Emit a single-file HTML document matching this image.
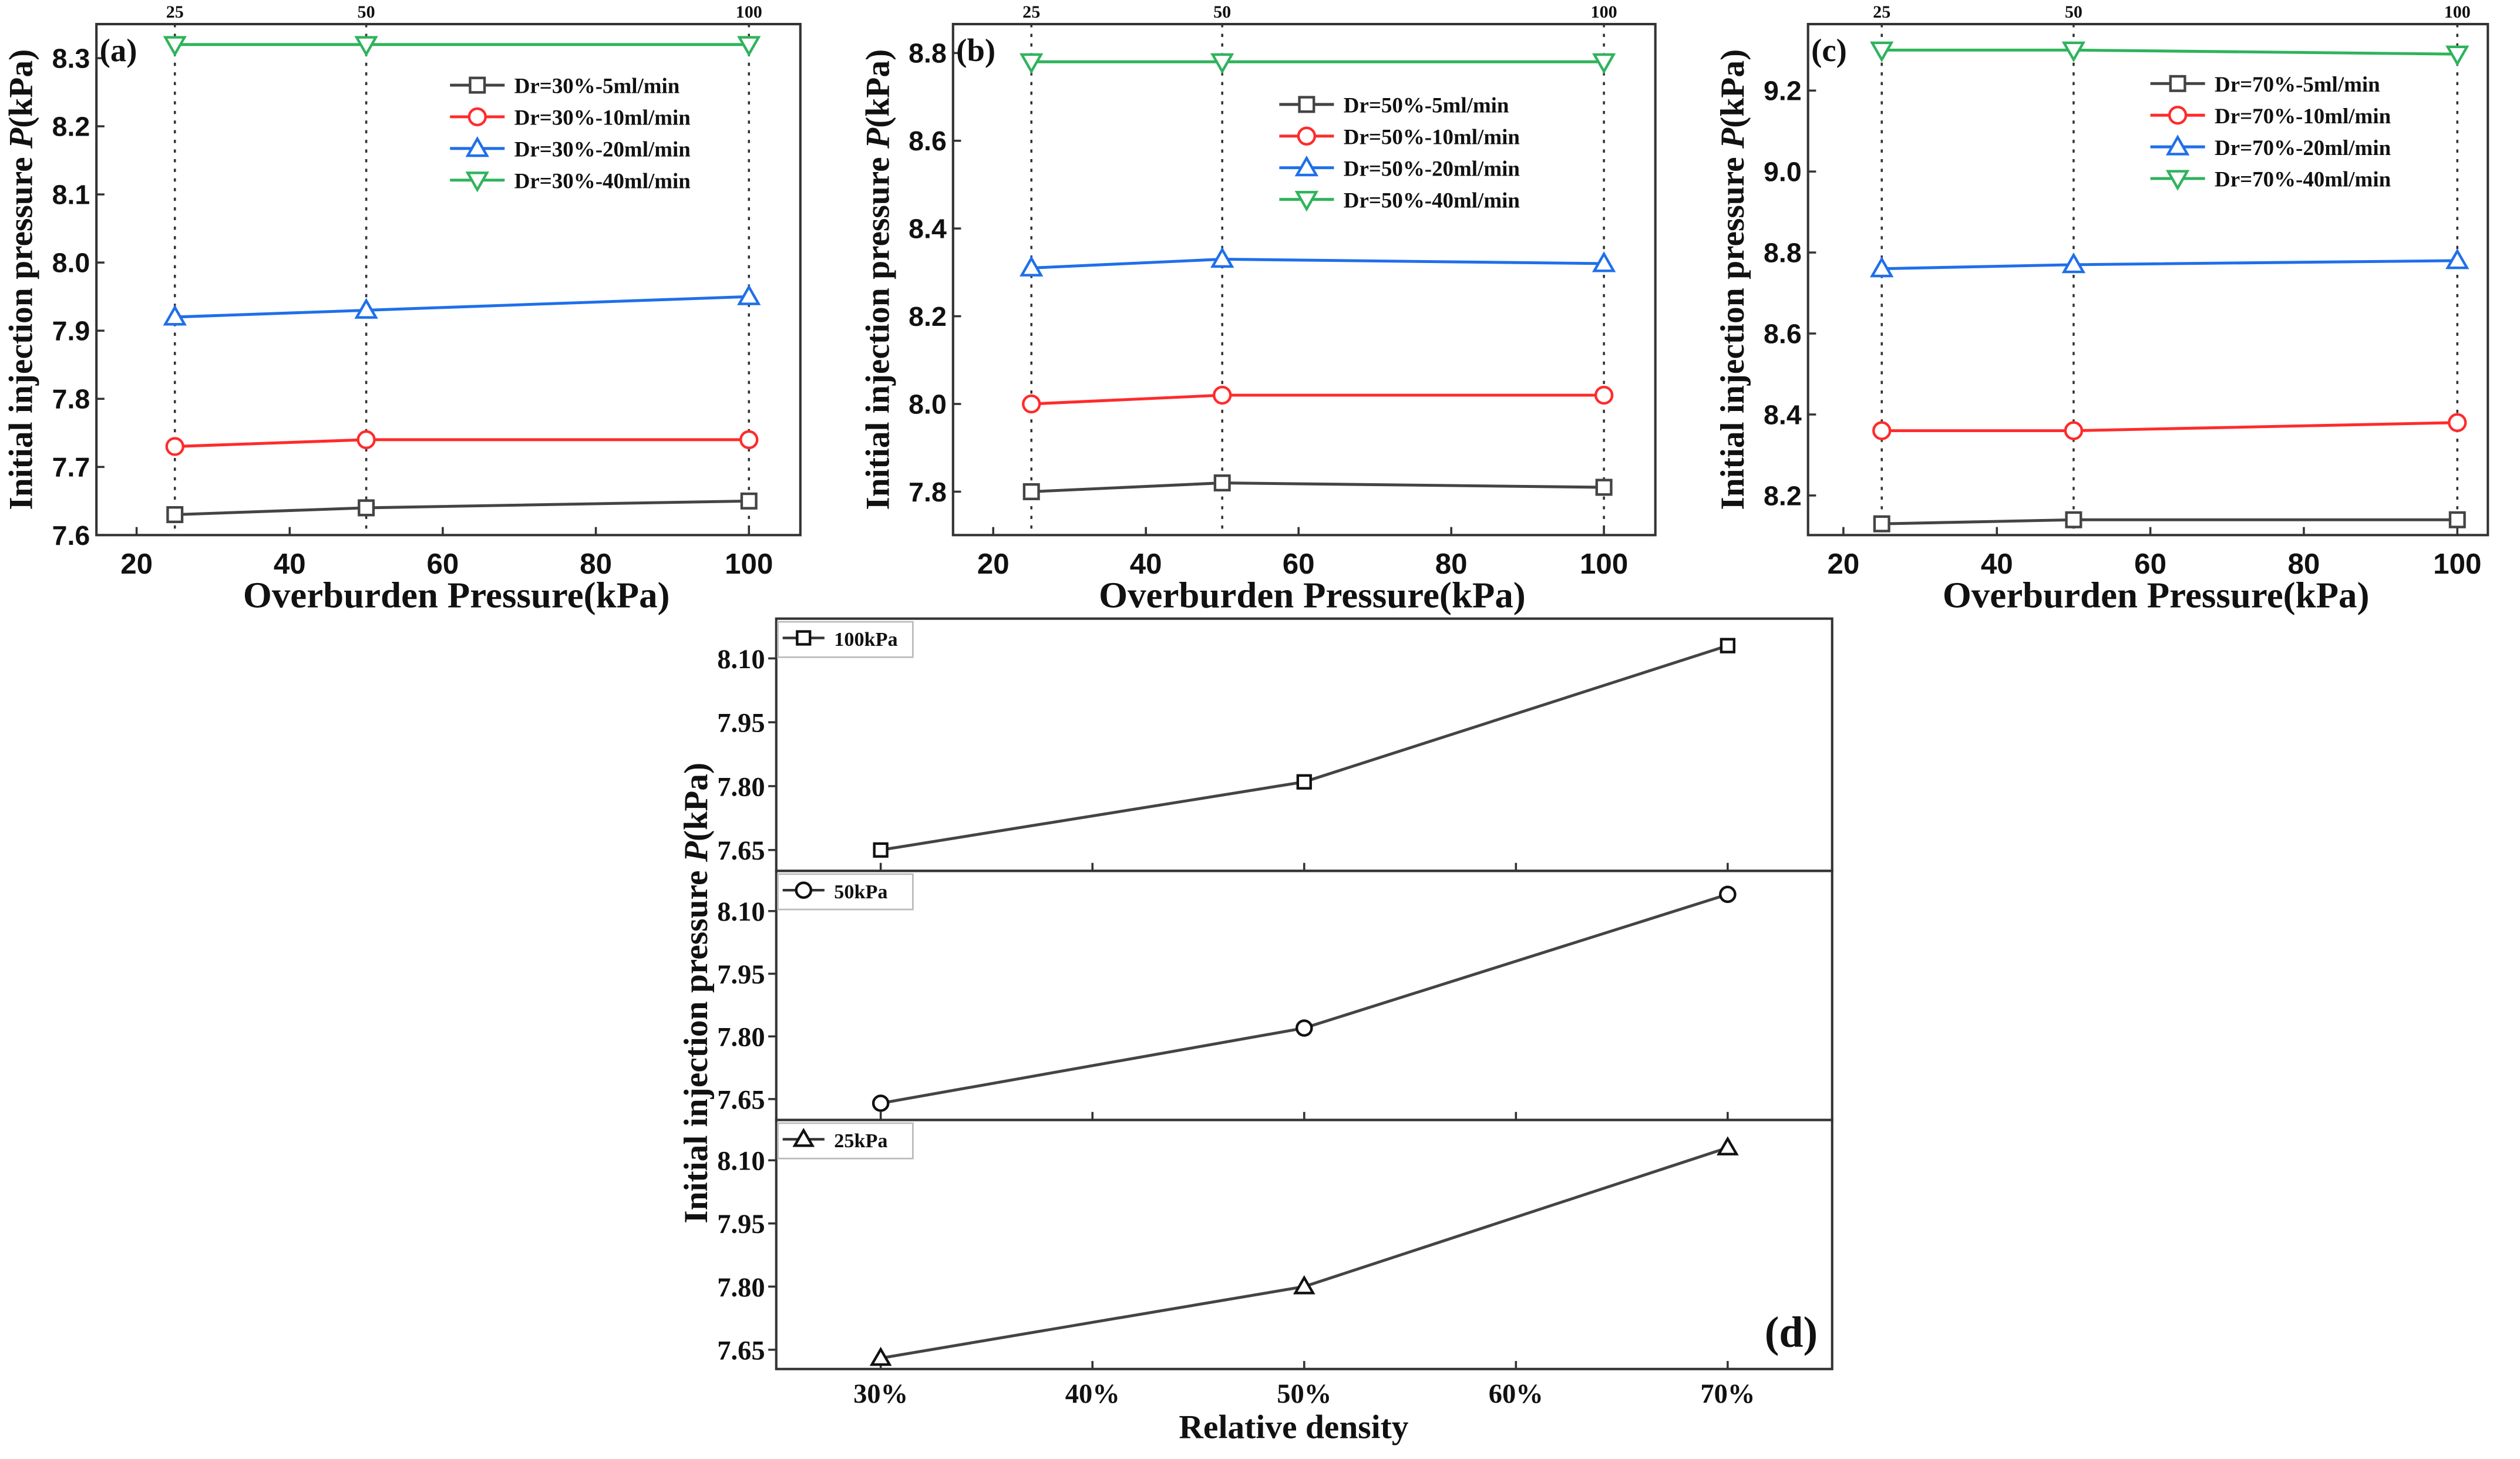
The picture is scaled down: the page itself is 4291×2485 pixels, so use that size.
<!DOCTYPE html>
<html><head><meta charset="utf-8"><style>
html,body{margin:0;padding:0;background:#fff}
svg{display:block}
text{font-family:"Liberation Serif",serif;font-weight:bold;fill:#111}
text.sans{font-family:"Liberation Sans",sans-serif}
</style></head><body>
<svg id="fig" xmlns="http://www.w3.org/2000/svg" width="4291" height="2485" viewBox="0 0 1568 908" preserveAspectRatio="none"></svg>
<script>
const overburden = [25, 50, 100];
const aLabels = ["Dr=30%-5ml/min","Dr=30%-10ml/min","Dr=30%-20ml/min","Dr=30%-40ml/min"];
const a5 = [7.63, 7.64, 7.65];
const a10 = [7.73, 7.74, 7.74];
const a20 = [7.92, 7.93, 7.95];
const a40 = [8.32, 8.32, 8.32];
const aTicks = [7.6, 7.7, 7.8, 7.9, 8.0, 8.1, 8.2, 8.3];
const bLabels = ["Dr=50%-5ml/min","Dr=50%-10ml/min","Dr=50%-20ml/min","Dr=50%-40ml/min"];
const b5 = [7.80, 7.82, 7.81];
const b10 = [8.00, 8.02, 8.02];
const b20 = [8.31, 8.33, 8.32];
const b40 = [8.78, 8.78, 8.78];
const bTicks = [7.8, 8.0, 8.2, 8.4, 8.6, 8.8];
const cLabels = ["Dr=70%-5ml/min","Dr=70%-10ml/min","Dr=70%-20ml/min","Dr=70%-40ml/min"];
const c5 = [8.13, 8.14, 8.14];
const c10 = [8.36, 8.36, 8.38];
const c20 = [8.76, 8.77, 8.78];
const c40 = [9.30, 9.30, 9.29];
const cTicks = [8.2, 8.4, 8.6, 8.8, 9.0, 9.2];
const xTicks = [20, 40, 60, 80, 100];
const density = [30, 50, 70];
const densityTicks = [30, 40, 50, 60, 70];
const d100 = [7.65, 7.81, 8.13];
const d50 = [7.64, 7.82, 8.14];
const d25 = [7.63, 7.80, 8.13];
const dTicks = [7.65, 7.80, 7.95, 8.10];
const dLabels = ["100kPa","50kPa","25kPa"];

const NS = "http://www.w3.org/2000/svg";
const svg = document.getElementById('fig');
function el(tag, attrs, parent, txt){
  const e = document.createElementNS(NS, tag);
  for (const k in attrs) e.setAttribute(k, attrs[k]);
  if (txt !== undefined) e.textContent = txt;
  (parent || svg).appendChild(e);
  return e;
}
const COLORS = ["#444", "#ff2b2b", "#1f6fea", "#2fb35c"];
const SHAPES = ["square","circle","tri","tridown"];
function marker(g, shape, x, y, col, r){
  let m;
  if (shape === "square") m = el('rect', {x:x-r, y:y-r, width:2*r, height:2*r, fill:'#fff', stroke:col, 'stroke-width':1.6}, g);
  else if (shape === "circle") m = el('circle', {cx:x, cy:y, r:r+0.6, fill:'#fff', stroke:col, 'stroke-width':1.6}, g);
  else if (shape === "tri") m = el('polygon', {points:`${x},${y-r-1.5} ${x-r-1.5},${y+r} ${x+r+1.5},${y+r}`, fill:'#fff', stroke:col, 'stroke-width':1.6}, g);
  else m = el('polygon', {points:`${x},${y+r+1.5} ${x-r-1.5},${y-r} ${x+r+1.5},${y-r}`, fill:'#fff', stroke:col, 'stroke-width':1.6}, g);
  
  
  return m;
}

function topPanel(cfg){
  const g = el('g', {});
  
  
  const X = v => cfg.x20 + (v - 20) * (cfg.x100 - cfg.x20) / 80;
  const Y = v => cfg.yA - (v - cfg.vA) * cfg.k;
  overburden.forEach(v => {
    const d = el('line', {x1:X(v), x2:X(v), y1:cfg.top, y2:cfg.bot, stroke:'#333', 'stroke-width':1.3, 'stroke-dasharray':'2,4'}, g);
    
    
    const t = el('text', {x:X(v), y:cfg.top - 4, 'text-anchor':'middle', 'font-size':11}, g, String(v));
    
    
  });
  const fr = el('rect', {x:cfg.left, y:cfg.top, width:cfg.right-cfg.left, height:cfg.bot-cfg.top, fill:'none', stroke:'#333', 'stroke-width':1.5}, g);
  
  
  xTicks.forEach(v => {
    el('line', {x1:X(v), x2:X(v), y1:cfg.bot, y2:cfg.bot-5, stroke:'#333', 'stroke-width':1.3}, g);
    const t = el('text', {class:'sans', x:X(v), y:cfg.bot + 24, 'text-anchor':'middle', 'font-size':18}, g, String(v));
    
    
  });
  cfg.ticks.forEach(v => {
    el('line', {x1:cfg.left, x2:cfg.left+5, y1:Y(v), y2:Y(v), stroke:'#333', 'stroke-width':1.3}, g);
    const t = el('text', {class:'sans', x:cfg.left - 4, y:Y(v) + 6, 'text-anchor':'end', 'font-size':17}, g, v.toFixed(1));
    
    
  });
  cfg.series.forEach((s, i) => {
    const pts = overburden.map((v, j) => X(v) + ',' + Y(s[j])).join(' ');
    const pl = el('polyline', {points:pts, fill:'none', stroke:COLORS[i], 'stroke-width':1.8}, g);
    
    
    overburden.forEach((v, j) => marker(g, SHAPES[i], X(v), Y(s[j]), COLORS[i], 4.5));
    const ly = cfg.legY + i * cfg.legDy;
    const lg = el('g', {}, g);
    
    
    el('line', {x1:cfg.legX, x2:cfg.legX + 34, y1:ly, y2:ly, stroke:COLORS[i], 'stroke-width':1.8}, lg);
    marker(lg, SHAPES[i], cfg.legX + 17, ly, COLORS[i], 4.5);
    el('text', {x:cfg.legX + 40, y:ly + 5, 'font-size':13.5}, lg, cfg.labels[i]);
  });
  const pl = el('text', {x:cfg.left + 2, y:cfg.top + 23, 'font-size':20}, g, cfg.tag);
  
  
  const xt = el('text', {x:(cfg.left + cfg.right) / 2 + 5, y:378, 'text-anchor':'middle', 'font-size':23}, g, 'Overburden Pressure(kPa)');
  
  
  const yt = el('text', {x:0, y:0, 'text-anchor':'middle', 'font-size':21, transform:`translate(${cfg.left - 40},${(cfg.top + cfg.bot) / 2}) rotate(-90)`}, g);
  
  
  el('tspan', {}, yt, 'Initial injection pressure ');
  el('tspan', {'font-style':'italic'}, yt, 'P');
  el('tspan', {}, yt, '(kPa)');
}

topPanel({name:'panel-a', tag:'(a)', left:60, right:498, top:15, bot:333, x20:85, x100:466, yA:333, vA:7.6, k:424, ticks:aTicks, series:[a5,a10,a20,a40], labels:aLabels, legX:280, legY:53, legDy:19.7});
topPanel({name:'panel-b', tag:'(b)', left:593, right:1030, top:15, bot:333, x20:618, x100:998, yA:306, vA:7.8, k:273, ticks:bTicks, series:[b5,b10,b20,b40], labels:bLabels, legX:796, legY:65, legDy:19.7});
topPanel({name:'panel-c', tag:'(c)', left:1125, right:1548, top:15, bot:333, x20:1147, x100:1529, yA:326, vA:8.13, k:252, ticks:cTicks, series:[c5,c10,c20,c40], labels:cLabels, legX:1338, legY:52, legDy:19.7});

(function(){
  const g = el('g', {});
  
  
  const L = 483, R = 1140;
  const X = v => 548 + (v - 30) * (1075 - 548) / 40;
  const subs = [
    {top:385, bot:542, y0:529, k:265, data:d100, shape:'square'},
    {top:542, bot:697, y0:684, k:260, data:d50, shape:'circle'},
    {top:697, bot:852, y0:840, k:262, data:d25, shape:'tri'}
  ];
  subs.forEach((s, i) => {
    const Y = v => s.y0 - (v - 7.65) * s.k;
    const sg = el('g', {}, g);
    
    
    el('rect', {x:L, y:s.top, width:R-L, height:s.bot-s.top, fill:'none', stroke:'#333', 'stroke-width':1.5}, sg);
    densityTicks.forEach(v => el('line', {x1:X(v), x2:X(v), y1:s.bot, y2:s.bot-5, stroke:'#333', 'stroke-width':1.3}, sg));
    dTicks.forEach(v => {
      el('line', {x1:L, x2:L-5, y1:Y(v), y2:Y(v), stroke:'#333', 'stroke-width':1.3}, sg);
      const t = el('text', {x:L - 7, y:Y(v) + 6, 'text-anchor':'end', 'font-size':17}, sg, v.toFixed(2));
      
      
    });
    const pts = density.map((v, j) => X(v) + ',' + Y(s.data[j])).join(' ');
    const pl = el('polyline', {points:pts, fill:'none', stroke:'#444', 'stroke-width':1.8}, sg);
    
    
    density.forEach((v, j) => marker(sg, s.shape, X(v), Y(s.data[j]), '#111', 4));
    const lg = el('g', {}, sg);
    
    
    el('rect', {x:L + 1, y:s.top + 2, width:84, height:22, fill:'#fff', stroke:'#bbb', 'stroke-width':1}, lg);
    el('line', {x1:L + 4, x2:L + 30, y1:s.top + 12, y2:s.top + 12, stroke:'#333', 'stroke-width':1.6}, lg);
    marker(lg, s.shape, L + 17, s.top + 12, '#111', 4);
    el('text', {x:L + 36, y:s.top + 17, 'font-size':12.5}, lg, dLabels[i]);
  });
  densityTicks.forEach(v => {
    const t = el('text', {x:X(v), y:873, 'text-anchor':'middle', 'font-size':17}, g, v + '%');
    
    
  });
  const xt = el('text', {x:805, y:895, 'text-anchor':'middle', 'font-size':21}, g, 'Relative density');
  
  
  const yt = el('text', {x:0, y:0, 'text-anchor':'middle', 'font-size':21, transform:'translate(440,618) rotate(-90)'}, g);
  
  
  el('tspan', {}, yt, 'Initial injection pressure ');
  el('tspan', {'font-style':'italic'}, yt, 'P');
  el('tspan', {}, yt, '(kPa)');
  const dl = el('text', {x:1098, y:838, 'font-size':27}, g, '(d)');
  
  
})();
</script>
</body></html>
